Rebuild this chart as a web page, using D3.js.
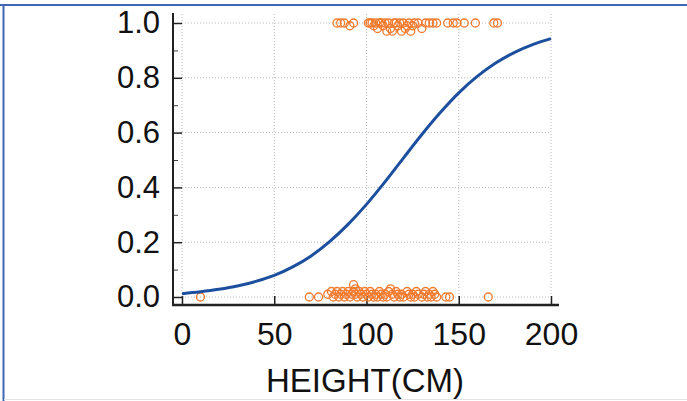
<!DOCTYPE html>
<html><head><meta charset="utf-8">
<script src="https://cdn.jsdelivr.net/npm/d3@7"></script>
<style>html,body{margin:0;padding:0;background:#fff;}svg{display:block;font-family:"Liberation Sans",Arial,sans-serif;}</style>
</head><body>
<svg id="c" width="687" height="401"></svg>
<script>
// Data
const xTicks = [0, 50, 100, 150, 200];
const yTicks = [0.0, 0.2, 0.4, 0.6, 0.8, 1.0];
const yMinorTicks = [0.1, 0.3, 0.5, 0.7, 0.9];
const curveX = [0,10,20,30,40,50,60,70,80,90,100,110,120,130,140,150,160,170,180,190,200];
const curveP = [0.012,0.019,0.028,0.040,0.057,0.079,0.110,0.150,0.202,0.265,0.338,0.420,0.507,0.593,0.673,0.745,0.805,0.854,0.892,0.921,0.943];
const heights1 = [84,86,88,91,93,101,102,103,104,105,106,107,108,109,110,111,112,113,114,115,116,117,118,119,120,121,122,123,124,125,126,128,130,132,134,136,138,144,147,149,153,159,169,171];
const jitter1 = [0,0,0,-0.01,0,0,0,0,-0.01,0,-0.02,0,0,-0.01,0,-0.03,0,-0.02,-0.03,0,0,-0.01,0,-0.03,0,-0.02,-0.01,0,-0.03,-0.01,0,0,-0.02,0,0,0,0,0,0,0,0,0,0,0];
const heights0 = [10,69,74,79,81,82,83,84,85,86,87,88,89,90,91,92,93,93,94,94,95,96,97,98,99,100,101,102,103,104,105,106,107,108,109,110,111,112,113,114,115,116,117,118,119,120,122,123,124,125,126,127,128,130,131,132,133,134,135,136,137,138,143,145,166];
const jitter0 = [0,0,0,0.01,0.02,0,0.01,0.02,0,0.01,0.02,0,0.01,0.02,0,0.01,0.045,0.02,0.01,0.03,0,0.02,0.01,0,0.02,0.01,0,0.02,0.01,0,0.01,0,0.02,0.01,0,0.01,0,0.02,0.03,0.01,0,0.02,0.01,0,0.01,0,0.02,0.01,0,0.01,0,0.02,0.01,0,0.01,0.02,0,0.01,0,0.02,0.01,0,0,0,0];

const svg = d3.select("#c");
// frame
svg.append("line").attr("x1",0).attr("x2",687).attr("y1",5).attr("y2",5).attr("stroke","#3f66b5").attr("stroke-width",2);
svg.append("line").attr("x1",3.5).attr("x2",3.5).attr("y1",4).attr("y2",401).attr("stroke","#3f66b5").attr("stroke-width",2);
svg.append("line").attr("x1",4).attr("x2",687).attr("y1",399.5).attr("y2",399.5).attr("stroke","#e4e4e4").attr("stroke-width",1);

const x = d3.scaleLinear().domain([0,200]).range([182,551]);
const y = d3.scaleLinear().domain([0,1]).range([297,23]);

// grid
const g = svg.append("g");
g.selectAll(".vg").data(xTicks).join("line").attr("x1",d=>x(d)).attr("x2",d=>x(d)).attr("y1",14).attr("y2",305)
  .attr("stroke","#b8b8b8").attr("stroke-width",1).attr("stroke-dasharray","1,2");
g.selectAll(".hg").data(yTicks).join("line").attr("x1",182).attr("x2",551).attr("y1",d=>y(d)).attr("y2",d=>y(d))
  .attr("stroke","#b8b8b8").attr("stroke-width",1).attr("stroke-dasharray","1,2");

// axes
const xAxis = d3.axisBottom(x).tickValues(xTicks).tickSize(-9).tickPadding(17).tickFormat(d3.format("d"));
const xg = svg.append("g").attr("transform","translate(0,305)").call(xAxis);
xg.select(".domain").remove();
xg.selectAll(".tick line").attr("stroke","#222").attr("stroke-width",1.5);
xg.selectAll("text").attr("font-size",32).attr("fill","#111").attr("font-family","Liberation Sans, Arial, sans-serif");
svg.append("line").attr("x1",172).attr("x2",559).attr("y1",305).attr("y2",305).attr("stroke","#222").attr("stroke-width",2.5);

const yAxis = d3.axisLeft(y).tickValues(yTicks).tickSize(-9).tickPadding(13).tickFormat(d3.format(".1f"));
const yg = svg.append("g").attr("transform","translate(173,0)").call(yAxis);
yg.select(".domain").remove();
yg.selectAll(".tick line").attr("stroke","#222").attr("stroke-width",1.5);
yg.selectAll("text").attr("font-size",31).attr("fill","#111").attr("font-family","Liberation Sans, Arial, sans-serif");
const ymin = d3.axisLeft(y).tickValues(yMinorTicks).tickSize(-5).tickFormat("");
const ymg = svg.append("g").attr("transform","translate(173,0)").call(ymin);
ymg.select(".domain").remove();
ymg.selectAll(".tick line").attr("stroke","#444").attr("stroke-width",1);
svg.append("line").attr("x1",173).attr("x2",173).attr("y1",13).attr("y2",306).attr("stroke","#222").attr("stroke-width",2);

svg.append("text").attr("x",365).attr("y",392).attr("text-anchor","middle").attr("font-size",33).attr("fill","#111").text("HEIGHT(CM)");

// points
const pts = heights1.map((h,i)=>({h, v:1+jitter1[i]})).concat(heights0.map((h,i)=>({h, v:jitter0[i]})));
svg.append("g").selectAll("circle").data(pts).join("circle")
  .attr("cx",d=>x(d.h)).attr("cy",d=>y(d.v)).attr("r",4)
  .attr("fill","none").attr("stroke","#f07a2e").attr("stroke-width",1.3);

// curve
const line = d3.line().x((d,i)=>x(curveX[i])).y(d=>y(d)).curve(d3.curveMonotoneX);
svg.append("path").datum(curveP).attr("d",line).attr("fill","none").attr("stroke","#1d4f9f").attr("stroke-width",3);
</script>
</body></html>
